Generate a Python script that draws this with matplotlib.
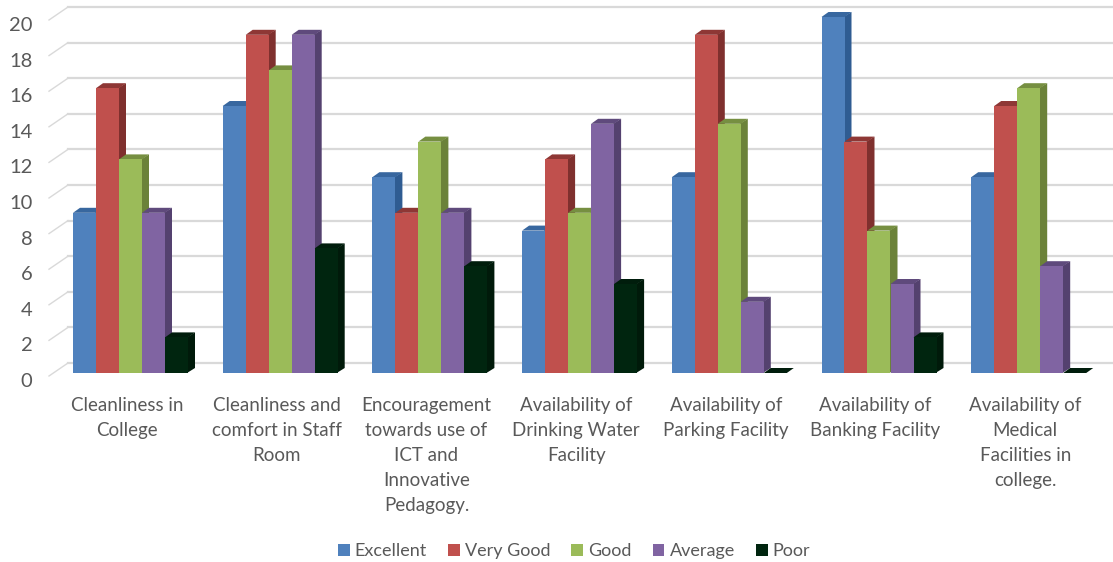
import numpy as np
import matplotlib
matplotlib.use("Agg")
import matplotlib.pyplot as plt
from matplotlib.patches import Polygon, Patch
from matplotlib.transforms import ScaledTranslation

categories = ["Cleanliness in\nCollege",
              "Cleanliness and\ncomfort in Staff\nRoom",
              "Encouragement\ntowards use of\nICT and\nInnovative\nPedagogy.",
              "Availability of\nDrinking Water\nFacility",
              "Availability of\nParking Facility",
              "Availability of\nBanking Facility",
              "Availability of\nMedical\nFacilities in\ncollege."]
excellent = [9, 15, 11, 8, 11, 20, 11]
very_good = [16, 19, 9, 12, 19, 13, 15]
good = [12, 17, 13, 9, 14, 8, 16]
average = [9, 19, 9, 14, 4, 5, 6]
poor = [2, 7, 6, 5, 0, 2, 0]
series_names = ["Excellent", "Very Good", "Good", "Average", "Poor"]
yticks = [0, 2, 4, 6, 8, 10, 12, 14, 16, 18, 20]

front = ["#4F81BD", "#C0504D", "#9BBB59", "#8064A2", "#00250F"]
side = ["#2F5C92", "#7F302E", "#6B8239", "#54416F", "#001A0A"]
top = ["#38679F", "#8E3735", "#768F41", "#5F4A7C", "#001D0C"]
text_col = "#595959"
grid_col = "#D9D9D9"

W, H = 1113, 562
plt.rcParams["font.family"] = ["Lato", "DejaVu Sans"]
fig = plt.figure(figsize=(W / 100, H / 100), dpi=100)

# axes box in pixels: value 0 sits at y=373, value 20 at y=17
left, right, y0, y20 = 49, W, 373, 17
ax = fig.add_axes([left / W, (H - y0) / H, (right - left) / W, (y0 - y20) / H])

# one category step is about 149.7 px, first group centred on x=130.5
step = 149.7
ax.set_xlim((left - 130.5) / step, (right - 130.5) / step)
ax.set_ylim(0, 20)
xpx = 1 / step
ypx = 20 / (y0 - y20)

bar_w = 23 * xpx
dx, dy = 7 * xpx, 5 * ypx      # depth of the bars
wall_dx, wall_dy = 19 * xpx, 13 * ypx   # depth of the floor/back wall
front_drop = 3 * ypx           # front end of grid lines sits a bit below the bars

# gridlines: slanted bit on the left then along the back wall
for v in yticks:
    yb = v + wall_dy - front_drop
    ax.plot([(left - 130.5) * xpx, (left + 19 - 130.5) * xpx],
            [v - front_drop, yb], color=grid_col, lw=1.0, clip_on=False, zorder=1)
    ax.plot([(left + 19 - 130.5) * xpx, (right - 130.5) * xpx],
            [yb, yb], color=grid_col, lw=1.6, clip_on=False, zorder=1)

series = [excellent, very_good, good, average, poor]
x = np.arange(len(categories))
for i in x:
    for j, vals in enumerate(series):
        x0 = i + (j - 2.5) * bar_w
        v = vals[i]
        z = 3 + i * 10 + j
        ax.bar(x0, v, width=bar_w, align="edge", color=front[j], zorder=z + 0.5, clip_on=False)
        # side starts 1px under the front face so no white seam shows
        xs = x0 + bar_w - xpx
        ax.add_patch(Polygon([(xs, 0), (x0 + bar_w + dx, dy), (x0 + bar_w + dx, v + dy), (xs, v)],
                             closed=True, facecolor=side[j], edgecolor="none", zorder=z, clip_on=False))
        ax.add_patch(Polygon([(x0, v), (x0 + dx, v + dy), (x0 + bar_w + dx, v + dy), (x0 + bar_w, v)],
                             closed=True, facecolor=top[j], edgecolor="none", zorder=z, clip_on=False))

for s in ax.spines.values():
    s.set_visible(False)
ax.patch.set_alpha(0)
ax.tick_params(length=0)

ax.set_yticks(yticks)
ax.set_yticklabels([str(t) for t in yticks], fontsize=14.5, color=text_col)
ax.tick_params(axis="y", pad=12)
shift_y = ScaledTranslation(0, -5 / 72, fig.dpi_scale_trans)
for lab in ax.get_yticklabels():
    lab.set_transform(lab.get_transform() + shift_y)

ax.set_xticks(x)
ax.set_xticklabels(categories, fontsize=13.5, color=text_col, linespacing=1.58, va="top")
ax.tick_params(axis="x", pad=17)
shift_x = ScaledTranslation(-2.5 / 72, 0, fig.dpi_scale_trans)
for lab in ax.get_xticklabels():
    lab.set_transform(lab.get_transform() + shift_x)

handles = [Patch(facecolor=c, edgecolor="none") for c in front]
fig.legend(handles, series_names, loc="center", bbox_to_anchor=(574 / W, 1 - 551 / H), ncol=5, frameon=False,
           fontsize=13, labelcolor=text_col, handlelength=0.66, handleheight=0.66, handletextpad=0.28,
           columnspacing=1.16)

fig.savefig("out.png", dpi=100)
